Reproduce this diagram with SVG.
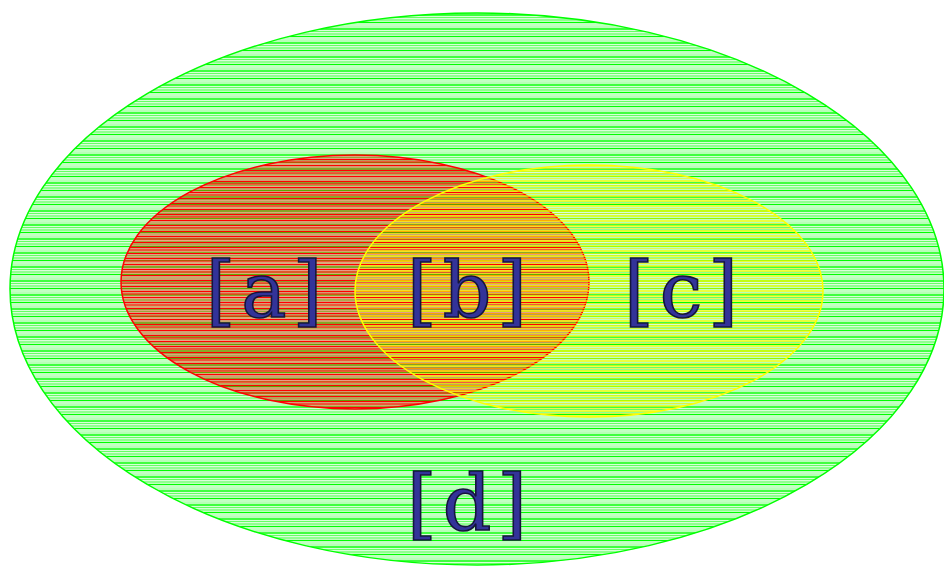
<svg xmlns="http://www.w3.org/2000/svg" width="944" height="566" viewBox="0 0 944 566">
<defs>
<pattern id="hg" patternUnits="userSpaceOnUse" width="944" height="14">
<rect width="944" height="14" fill="#ffffff"/>
<line x1="0" y1="1" x2="944" y2="1" stroke="#00ff00" stroke-width="1.3"/>
<line x1="0" y1="3.5" x2="944" y2="3.5" stroke="#66ff66" stroke-width="1.3"/>
<line x1="0" y1="6" x2="944" y2="6" stroke="#22ff22" stroke-width="1"/>
<line x1="0" y1="8.5" x2="944" y2="8.5" stroke="#00ff00" stroke-width="1.3"/>
<line x1="0" y1="11" x2="944" y2="11" stroke="#88ff88" stroke-width="1.1"/>
<line x1="0" y1="13" x2="944" y2="13" stroke="#33ff33" stroke-width="0.7"/>
</pattern>
<pattern id="hr" patternUnits="userSpaceOnUse" width="944" height="11">
<rect width="944" height="11" fill="#ff0000" opacity="0.18"/>
<line x1="0" y1="0.5" x2="944" y2="0.5" stroke="#ff0000" stroke-width="1.6"/>
<line x1="0" y1="3" x2="944" y2="3" stroke="#cc4400" stroke-width="1.2" opacity="0.6"/>
<line x1="0" y1="5.5" x2="944" y2="5.5" stroke="#ff0000" stroke-width="1.6"/>
<line x1="0" y1="8" x2="944" y2="8" stroke="#ff1100" stroke-width="1.3" opacity="0.85"/>
<line x1="0" y1="10" x2="944" y2="10" stroke="#ff3300" stroke-width="1" opacity="0.5"/>
</pattern>
<pattern id="hy" patternUnits="userSpaceOnUse" width="944" height="10">
<line x1="0" y1="1" x2="944" y2="1" stroke="#ffff00" stroke-width="1.6" opacity="0.9"/>
<line x1="0" y1="3.5" x2="944" y2="3.5" stroke="#eeee00" stroke-width="1.2" opacity="0.7"/>
<line x1="0" y1="6" x2="944" y2="6" stroke="#ffff00" stroke-width="1.5" opacity="0.85"/>
<line x1="0" y1="8.5" x2="944" y2="8.5" stroke="#ffee00" stroke-width="1.2" opacity="0.6"/>
</pattern>
<style>
.lbl{font-family:"DejaVu Serif","Liberation Serif",serif;font-size:76px;letter-spacing:6px;fill:#333399;stroke:#15153a;stroke-width:1.6;text-anchor:middle;}
</style>
</defs>
<g id="d">
<ellipse cx="477" cy="289" rx="467" ry="276" fill="url(#hg)" stroke="#00ff00" stroke-width="1.5"/>
</g>
<g id="a">
<ellipse cx="355" cy="282" rx="234" ry="127" fill="url(#hr)" stroke="#ff0000" stroke-width="1.5"/>
</g>
<g id="c">
<ellipse cx="589" cy="291" rx="234" ry="126" fill="url(#hy)" stroke="#ffff00" stroke-width="1.5"/>
</g>
<g id="labels">
<text class="lbl" x="267" y="317">[a]</text>
<text class="lbl" x="470" y="317">[b]</text>
<text class="lbl" x="684" y="317">[c]</text>
<text class="lbl" x="470" y="530">[d]</text>
</g>
<g id="connectors"/>
</svg>
